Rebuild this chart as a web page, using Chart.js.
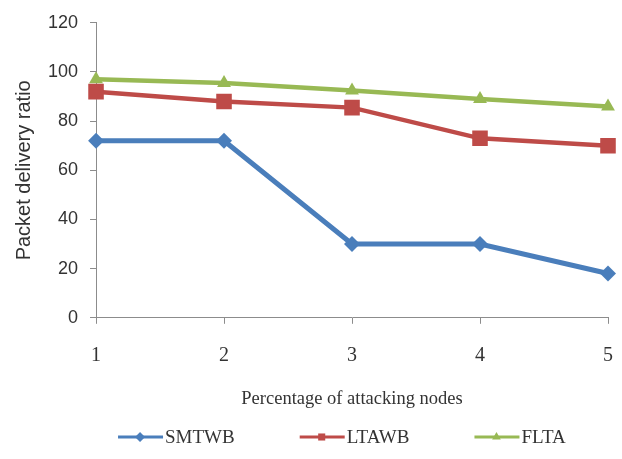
<!DOCTYPE html>
<html lang="en">
<head>
    <meta charset="UTF-8">
    <title>Packet delivery ratio</title>
    <script src="https://cdn.jsdelivr.net/npm/chart.js"></script>
    <style>
        body { margin: 0; background: #fff; }
        #wrap { width: 622px; height: 459px; }
    </style>
</head>
<body>
    <div id="wrap"><canvas id="pdrChart"></canvas></div>
    <script>
        // data
        const xLabels = ['1', '2', '3', '4', '5'];
        const smtwb = [72, 72, 30, 30, 18];
        const ltawb = [92, 88, 85.5, 73, 70];
        const flta = [97, 95.5, 92.5, 89, 86];
        const seriesNames = ['SMTWB', 'LTAWB', 'FLTA'];

        const serif = "'Liberation Serif', 'DejaVu Serif', serif";
        const sans = "'Liberation Sans', 'DejaVu Sans', sans-serif";
        const axisGrey = '#8c8c8c';
        const textColor = '#333333';

        // legend drawn by hand: line + marker + label, like the Excel one
        const lineLegend = {
            id: 'lineLegend',
            afterDraw(chart) {
                const ctx = chart.ctx;
                const y = 437;
                let x = chart.chartArea.left + 22;
                ctx.save();
                ctx.font = '19px ' + serif;
                ctx.textBaseline = 'middle';
                chart.data.datasets.forEach(ds => {
                    ctx.strokeStyle = ds.borderColor;
                    ctx.lineWidth = 3;
                    ctx.beginPath();
                    ctx.moveTo(x, y);
                    ctx.lineTo(x + 45, y);
                    ctx.stroke();
                    ctx.fillStyle = ds.borderColor;
                    Chart.helpers.drawPoint(ctx, {
                        pointStyle: ds.pointStyle,
                        radius: 5,
                        rotation: 0,
                        borderWidth: 0
                    }, x + 22, y);
                    ctx.fillStyle = textColor;
                    ctx.fillText(ds.label, x + 47, y + 1);
                    x += 47 + ctx.measureText(ds.label).width + 65;
                });
                ctx.restore();
            }
        };

        const ctx = document.getElementById('pdrChart').getContext('2d');
        new Chart(ctx, {
            type: 'line',
            data: {
                labels: xLabels,
                datasets: [
                    { label: seriesNames[0], data: smtwb, borderColor: '#4a7ebb', backgroundColor: '#4a7ebb', pointStyle: 'rectRot', pointRadius: 8, borderWidth: 5 },
                    { label: seriesNames[1], data: ltawb, borderColor: '#be4b48', backgroundColor: '#be4b48', pointStyle: 'rect', pointRadius: 11 },
                    { label: seriesNames[2], data: flta, borderColor: '#98b954', backgroundColor: '#98b954', pointStyle: 'triangle', pointRadius: 8 }
                ]
            },
            options: {
                responsive: true,
                maintainAspectRatio: false,
                animation: false,
                datasets: { line: { borderWidth: 4.5, tension: 0, pointBorderWidth: 0 } },
                layout: { padding: { top: 18, right: 0, left: 2, bottom: 49 } },
                plugins: {
                    legend: { display: false },
                    tooltip: { enabled: false }
                },
                scales: {
                    x: {
                        offset: false,
                        border: { color: axisGrey, width: 1 },
                        grid: { drawOnChartArea: false, color: axisGrey, tickLength: 6 },
                        ticks: { color: textColor, padding: 20, font: { family: serif, size: 20 }, maxRotation: 0 },
                        title: { display: true, text: 'Percentage of attacking nodes', color: textColor, padding: { top: 0, bottom: 0 }, font: { family: serif, size: 18.5 } },
                        afterFit(scale) { scale.paddingRight = 14; }
                    },
                    y: {
                        min: 0,
                        max: 120,
                        border: { color: axisGrey, width: 1 },
                        grid: { drawOnChartArea: false, color: axisGrey, tickLength: 6 },
                        ticks: { stepSize: 20, color: textColor, padding: 12, font: { family: sans, size: 18 } },
                        title: { display: true, text: 'Packet delivery ratio', color: textColor, padding: { top: 10, bottom: 0 }, font: { family: sans, size: 20 } }
                    }
                }
            },
            plugins: [lineLegend]
        });
    </script>
</body>
</html>
